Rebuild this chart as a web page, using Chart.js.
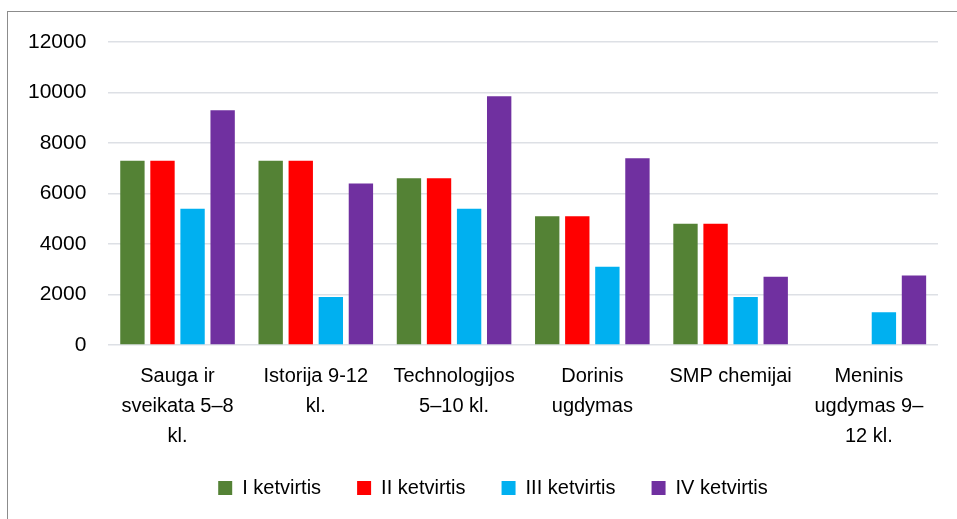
<!DOCTYPE html>
<html>
<head>
<meta charset="utf-8">
<script src="https://cdn.jsdelivr.net/npm/chart.js@4/dist/chart.umd.min.js"></script>
<style>
  html, body { margin: 0; padding: 0; background: #fff; }
  #wrap { position: relative; width: 957px; height: 519px; overflow: hidden; }
  #frame { position: absolute; left: 7px; top: 11px; width: 1000px; height: 600px; border-left: 1px solid #8c8c8c; border-top: 1px solid #8c8c8c; pointer-events: none; }
  canvas { position: absolute; left: 0; top: 0; }
</style>
</head>
<body>
<div id="wrap">
  <div id="frame"></div>
  <canvas id="c" width="957" height="519"></canvas>
</div>
<script>
const categories = [
  ["Sauga ir", "sveikata 5–8", "kl."],
  ["Istorija 9-12", "kl."],
  ["Technologijos", "5–10 kl."],
  ["Dorinis", "ugdymas"],
  ["SMP chemijai"],
  ["Meninis", "ugdymas 9–", "12 kl."]
];
const seriesNames = ["I ketvirtis", "II ketvirtis", "III ketvirtis", "IV ketvirtis"];
const q1 = [7300, 7300, 6600, 5100, 4800, null];
const q2 = [7300, 7300, 6600, 5100, 4800, null];
const q3 = [5400, 1900, 5400, 3100, 1900, 1300];
const q4 = [9300, 6400, 9850, 7400, 2700, 2750];
const colors = ["#548235", "#FF0000", "#00B0F0", "#7030A0"];
const yTicks = [0, 2000, 4000, 6000, 8000, 10000, 12000];

const font = "'Liberation Sans', Arial, sans-serif";
const allSeries = [q1, q2, q3, q4];

const legendShift = {
  id: 'legendShift',
  afterLayout(chart) {
    if (chart.legend) { chart.legend.left += 21; chart.legend.right += 21; }
  }
};

new Chart(document.getElementById('c'), {
  type: 'bar',
  data: {
    labels: categories,
    datasets: allSeries.map((d, i) => ({
      label: seriesNames[i],
      data: d,
      backgroundColor: colors[i],
      borderWidth: 0,
      categoryPercentage: 0.87,
      barPercentage: 0.81
    }))
  },
  plugins: [legendShift],
  options: {
    responsive: false,
    animation: false,
    devicePixelRatio: 1,
    layout: { padding: { left: 6, right: 19, top: 42, bottom: 11 } },
    plugins: {
      tooltip: { enabled: false },
      legend: {
        position: 'bottom',
        labels: {
          color: '#000',
          font: { family: font, size: 20 },
          boxWidth: 14,
          boxHeight: 14,
          padding: 36
        }
      }
    },
    scales: {
      x: {
        grid: { display: false, drawTicks: false },
        border: { display: false },
        afterFit: (axis) => { axis.height -= 25; },
        ticks: {
          color: '#000',
          font: { family: font, size: 20, lineHeight: 1.5 },
          padding: 16,
          maxRotation: 0,
          autoSkip: false
        }
      },
      y: {
        min: 0,
        max: 12000,
        afterBuildTicks: (axis) => { axis.ticks = yTicks.map(v => ({ value: v })); },
        grid: { color: '#dde0e5', lineWidth: 1.5, drawTicks: false },
        border: { display: false },
        ticks: {
          color: '#000',
          font: { family: font, size: 21 },
          padding: 22,
          callback: (v) => String(v)
        }
      }
    }
  }
});
</script>
</body>
</html>
